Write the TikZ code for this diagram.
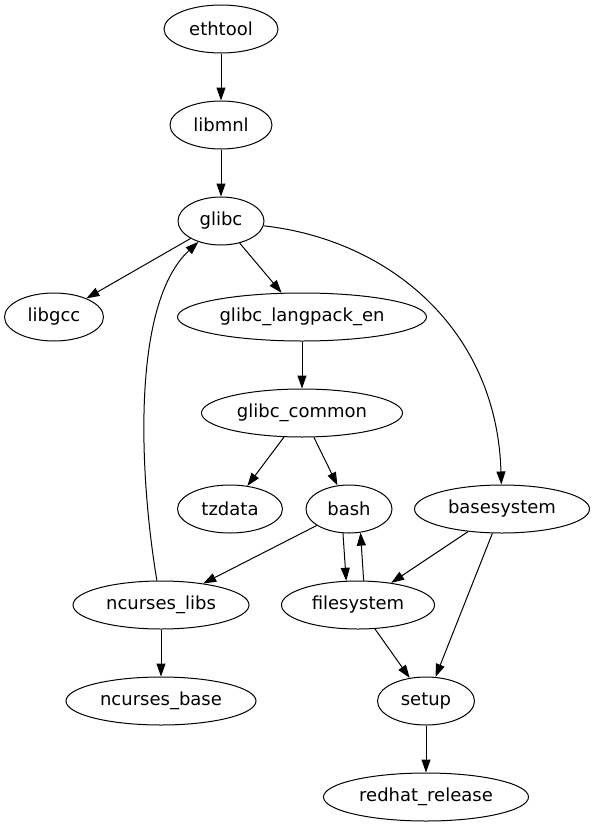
\documentclass[tikz,border=0pt]{standalone}
\usepackage{fontspec}
\setmainfont{DejaVu Sans}
\usetikzlibrary{shapes.geometric,arrows.meta}

\begin{document}
\begin{tikzpicture}[x=1pt,y=-1pt,
    pkg/.style={draw,ellipse,line width=1pt,inner sep=0pt,minimum height=48pt,
        font=\fontsize{18}{22}\selectfont},
    dep/.style={line width=1pt,-{Triangle[length=13pt,width=9pt]}}]
    \useasboundingbox (0,0) rectangle (595,827);

    % Draw packages, one rank per row
    \node[pkg,minimum width=114pt] (ethtool) at (221,29) {ethtool};
    \node[pkg,minimum width=102pt] (libmnl) at (221,125) {libmnl};
    \node[pkg,minimum width=86pt] (glibc) at (221,221) {glibc};
    \node[pkg,minimum width=99pt] (libgcc) at (54,317) {libgcc};
    \node[pkg,minimum width=249pt] (langpack) at (302,317) {glibc\_langpack\_en};
    \node[pkg,minimum width=201pt] (common) at (302,413) {glibc\_common};
    \node[pkg,minimum width=105pt] (tzdata) at (230,509) {tzdata};
    \node[pkg,minimum width=86pt] (bash) at (349,509) {bash};
    \node[pkg,minimum width=175pt] (basesys) at (502,509) {basesystem};
    \node[pkg,minimum width=176pt] (nclibs) at (161,605) {ncurses\_libs};
    \node[pkg,minimum width=153pt] (fs) at (358,605) {filesystem};
    \node[pkg,minimum width=190pt] (ncbase) at (161,701) {ncurses\_base};
    \node[pkg,minimum width=97pt] (setup) at (426,701) {setup};
    \node[pkg,minimum width=205pt] (redhat) at (426,797) {redhat\_release};

    % Draw dependencies
    \draw[dep] (ethtool) -- (libmnl);
    \draw[dep] (libmnl) -- (glibc);
    \draw[dep] (glibc) -- (libgcc);
    \draw[dep] (glibc) -- (langpack);
    \draw[dep] (glibc) .. controls (390,240) and (497,330) .. (basesys);
    \draw[dep] (langpack) -- (common);
    \draw[dep] (common) -- (tzdata);
    \draw[dep] (common) -- (bash);
    \draw[dep] (bash) -- (nclibs);
    \draw[dep] (bash.-104) -- (fs.116);
    \draw[dep] (fs.77) -- (bash.-64);
    \draw[dep] (basesys) -- (fs);
    \draw[dep] (basesys) -- (setup);
    \draw[dep] (nclibs) .. controls (140,480) and (130,305) .. (glibc);
    \draw[dep] (nclibs) -- (ncbase);
    \draw[dep] (fs) -- (setup);
    \draw[dep] (setup) -- (redhat);
\end{tikzpicture}
\end{document}
